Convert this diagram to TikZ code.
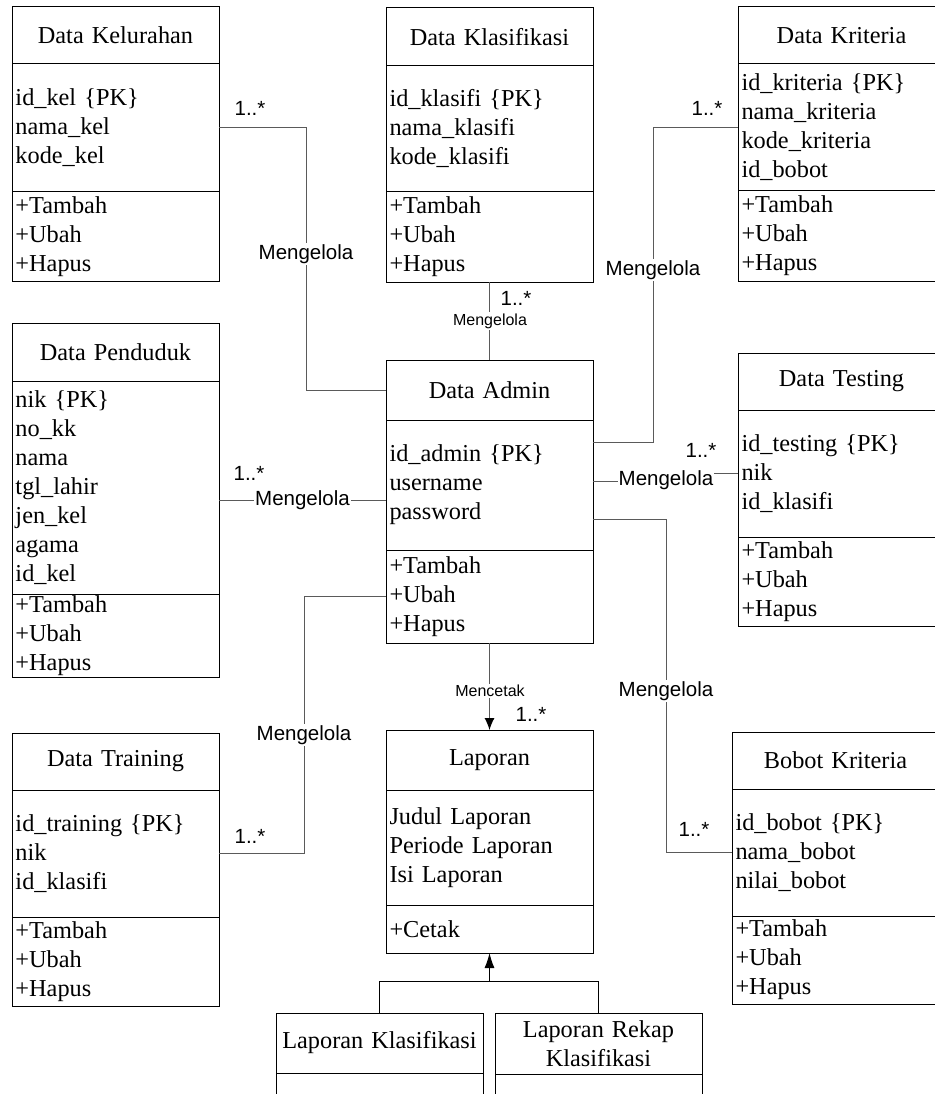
\documentclass[tikz,border=0pt]{standalone}
\usepackage{fontspec}
\setmainfont{Liberation Serif}
\newfontfamily\labelfont{Liberation Sans}
\usepackage{tikz}
\usetikzlibrary{arrows.meta,positioning}
\definecolor{linegray}{RGB}{90,90,90}

\begin{document}
\begin{tikzpicture}[x=1pt, y=-1pt, >=Latex,
    part/.style={draw=black, line width=1pt, inner xsep=3.5pt, inner ysep=0pt, outer sep=0pt,
      text width=200pt, minimum height=#1, font=\fontsize{24.3}{29}\selectfont},
    head/.style={part=#1, align=center},
    body/.style={part=#1, align=left},
    wire/.style={linegray, line width=1pt},
    verb/.style={font=\labelfont\fontsize{20.5}{22}\selectfont, text=black, fill=white, inner sep=1pt},
    verbsmall/.style={font=\labelfont\fontsize{16}{18}\selectfont, text=black, fill=white, inner sep=1.5pt},
    mult/.style={font=\labelfont\fontsize{20.5}{22}\selectfont, inner sep=0pt}]
    \useasboundingbox (0,0) rectangle (934,1094);

    % kelas data
    \node[head=57pt, anchor=north west] (kel) at (12,7) {Data Kelurahan};
    \node[body=128pt, below=0pt of kel] (kel-a) {id\_kel \{PK\}\\nama\_kel\\kode\_kel};
    \node[body=89pt, below=0pt of kel-a] (kel-o) {+Tambah\\+Ubah\\+Hapus};

    \node[head=58pt, anchor=north west] (klas) at (386,8) {Data Klasifikasi};
    \node[body=126pt, below=0pt of klas] (klas-a) {id\_klasifi \{PK\}\\nama\_klasifi\\kode\_klasifi};
    \node[body=90pt, below=0pt of klas-a] (klas-o) {+Tambah\\+Ubah\\+Hapus};

    \node[head=57pt, anchor=north west] (krit) at (738,7) {Data Kriteria};
    \node[body=127pt, below=0pt of krit] (krit-a) {id\_kriteria \{PK\}\\nama\_kriteria\\kode\_kriteria\\id\_bobot};
    \node[body=90pt, below=0pt of krit-a] (krit-o) {+Tambah\\+Ubah\\+Hapus};

    \node[head=58pt, anchor=north west] (pend) at (12,323) {Data Penduduk};
    \node[body=213pt, below=0pt of pend] (pend-a) {nik \{PK\}\\no\_kk\\nama\\tgl\_lahir\\jen\_kel\\agama\\id\_kel};
    \node[body=83pt, below=0pt of pend-a] (pend-o) {+Tambah\\+Ubah\\+Hapus};

    \node[head=60pt, anchor=north west] (admin) at (386,360) {Data Admin};
    \node[body=130pt, below=0pt of admin] (admin-a) {id\_admin \{PK\}\\username\\password};
    \node[body=93pt, below=0pt of admin-a] (admin-o) {+Tambah\\+Ubah\\+Hapus};

    \node[head=57pt, anchor=north west] (test) at (738,353) {Data Testing};
    \node[body=127pt, below=0pt of test] (test-a) {id\_testing \{PK\}\\nik\\id\_klasifi};
    \node[body=89pt, below=0pt of test-a] (test-o) {+Tambah\\+Ubah\\+Hapus};

    \node[head=57pt, anchor=north west] (train) at (12,733) {Data Training};
    \node[body=127pt, below=0pt of train] (train-a) {id\_training \{PK\}\\nik\\id\_klasifi};
    \node[body=89pt, below=0pt of train-a] (train-o) {+Tambah\\+Ubah\\+Hapus};

    \node[head=57pt, anchor=north west] (bobot) at (732,732) {Bobot Kriteria};
    \node[body=127pt, below=0pt of bobot] (bobot-a) {id\_bobot \{PK\}\\nama\_bobot\\nilai\_bobot};
    \node[body=88pt, below=0pt of bobot-a] (bobot-o) {+Tambah\\+Ubah\\+Hapus};

    % laporan
    \node[head=60pt, anchor=north west] (lap) at (386,730) {Laporan};
    \node[body=115pt, below=0pt of lap] (lap-a) {Judul Laporan\\Periode Laporan\\Isi Laporan};
    \node[body=48pt, below=0pt of lap-a] (lap-o) {+Cetak};

    \node[head=60pt, anchor=north west] (lapk) at (276,1013) {Laporan Klasifikasi};
    \node[body=60pt, below=0pt of lapk] (lapk-a) {};
    \node[head=61pt, anchor=north west] (lapr) at (495,1013) {Laporan Rekap\\Klasifikasi};
    \node[body=60pt, below=0pt of lapr] (lapr-a) {};

    % relasi
    \draw[wire] (kel-a.east) -- ++(87,0) |- (admin.west);
    \node[mult] (m-kel) at (250,108) {1..*};
    \node[verb] (v-kel) at (306,254) {Mengelola};

    \draw[wire] (klas-o.south) -- (admin.north);
    \node[mult] (m-klas) at (516,298) {1..*};
    \node[verbsmall] (v-klas) at (490,321) {Mengelola};

    \draw[wire] (krit-a.west) -- ++(-85,0) |- ([yshift=43pt]admin-a.east);
    \node[mult] (m-krit) at (707,108) {1..*};
    \node[verb] (v-krit) at (653,270) {Mengelola};

    \draw[wire] ([yshift=4pt]admin-a.east) -- ++(73,0) |- (test-a.west);
    \node[verb] (v-test) at (666,480) {Mengelola};
    \node[mult] (m-test) at (701,450) {1..*};

    \draw[wire] ([yshift=-34pt]admin-a.east) -- ++(73,0) |- (bobot-a.west);
    \node[verb] (v-bobot) at (666,691) {Mengelola};
    \node[mult] (m-bobot) at (694,829) {1..*};

    \draw[wire] ([yshift=-13pt]pend-a.east) -- node[verb] (v-pend) {Mengelola}
      ([yshift=-13pt]pend-a.east -| admin-a.west);
    \node[mult] (m-pend) at (249,473) {1..*};

    \draw[wire] (admin-o.west) -- ++(-82,0) |- (train-a.east);
    \node[verb] (v-train) at (304,735) {Mengelola};
    \node[mult] (m-train) at (250,836) {1..*};

    \draw[wire, -{Latex[length=12pt, width=10pt, black]}] (admin-o.south) -- (lap.north);
    \node[verbsmall] (v-lap) at (490,691) {Mencetak};
    \node[mult] (m-lap) at (531,714) {1..*};

    % turunan laporan
    \coordinate (cabang) at ([yshift=-28pt]lap-o.south);
    \draw[line width=1pt] (lapk.north) |- (cabang) -| (lapr.north);
    \draw[line width=1pt, -{Latex[length=15pt, width=10pt]}] (cabang) -- (lap-o.south);
  \end{tikzpicture}
\end{document}
